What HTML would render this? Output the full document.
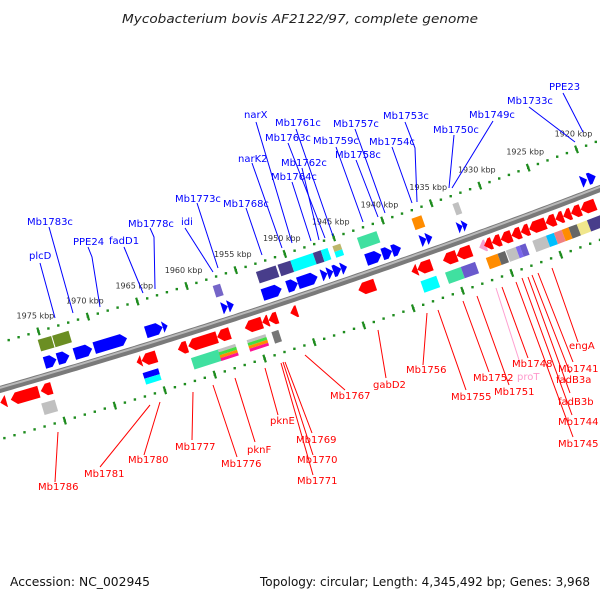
<!DOCTYPE html>
<html><head><meta charset="utf-8"><title>Mycobacterium bovis genome map</title>
<style>
html,body{margin:0;padding:0;background:#fff;}
svg{display:block;font-family:"DejaVu Sans","Liberation Sans",sans-serif;}
.bl{fill:#0000ff;font-size:10px;}
.rl{fill:#ff0000;font-size:10px;}
.bline{stroke:#0000ff;stroke-width:1;fill:none;}
.rline{stroke:#ff0000;stroke-width:1;fill:none;}
</style></head>
<body>
<svg id="map" width="600" height="600" viewBox="0 0 600 600" xmlns="http://www.w3.org/2000/svg">
<rect width="600" height="600" fill="#fff"/>
<text x="300" y="23" text-anchor="middle" font-size="12.5" font-style="italic" fill="#222" textLength="356" lengthAdjust="spacingAndGlyphs">Mycobacterium bovis AF2122/97, complete genome</text>
<g id="features"></g>
<g id="labels-top">
<polyline class="bline" points="256,122 292,243"/><text class="bl" x="244" y="118">narX</text>
<polyline class="bline" points="296,129 333,236"/><text class="bl" x="275" y="126">Mb1761c</text>
<polyline class="bline" points="288,143 325,238"/><text class="bl" x="265" y="141">Mb1763c</text>
<polyline class="bline" points="252,163 282,248"/><text class="bl" x="238" y="162">narK2</text>
<polyline class="bline" points="302,168 319,240"/><text class="bl" x="281" y="166">Mb1762c</text>
<polyline class="bline" points="292,182 311,241"/><text class="bl" x="271" y="180">Mb1764c</text>
<polyline class="bline" points="197,203 218,268"/><text class="bl" x="175" y="202">Mb1773c</text>
<polyline class="bline" points="246,208 262,255"/><text class="bl" x="223" y="207">Mb1768c</text>
<polyline class="bline" points="49,227 73,313"/><text class="bl" x="27" y="225">Mb1783c</text>
<polyline class="bline" points="150,228 154,237 155,289"/><text class="bl" x="128" y="227">Mb1778c</text>
<polyline class="bline" points="185,228 213,272"/><text class="bl" x="181" y="225">idi</text>
<polyline class="bline" points="88,247 92,257 100,307"/><text class="bl" x="73" y="245">PPE24</text>
<polyline class="bline" points="124,247 143,293"/><text class="bl" x="109" y="244">fadD1</text>
<polyline class="bline" points="40,263 55,318"/><text class="bl" x="29" y="259">plcD</text>
<polyline class="bline" points="563,93 583,132"/><text class="bl" x="549" y="90">PPE23</text>
<polyline class="bline" points="529,107 575,142"/><text class="bl" x="507" y="104">Mb1733c</text>
<polyline class="bline" points="493,121 452,188"/><text class="bl" x="469" y="118">Mb1749c</text>
<polyline class="bline" points="454,135 449,188"/><text class="bl" x="433" y="133">Mb1750c</text>
<polyline class="bline" points="405,122 415,148 417,202"/><text class="bl" x="383" y="119">Mb1753c</text>
<polyline class="bline" points="392,147 412,203"/><text class="bl" x="369" y="145">Mb1754c</text>
<polyline class="bline" points="355,129 385,213"/><text class="bl" x="333" y="127">Mb1757c</text>
<polyline class="bline" points="336,147 363,222"/><text class="bl" x="313" y="144">Mb1759c</text>
<polyline class="bline" points="356,160 378,217"/><text class="bl" x="335" y="158">Mb1758c</text>
</g>
<g id="labels-bottom">
<polyline class="rline" points="55,482 58,432"/><text class="rl" x="38" y="490">Mb1786</text>
<polyline class="rline" points="100,467 150,405"/><text class="rl" x="84" y="477">Mb1781</text>
<polyline class="rline" points="144,455 160,402"/><text class="rl" x="128" y="463">Mb1780</text>
<polyline class="rline" points="192,440 193,392"/><text class="rl" x="175" y="450">Mb1777</text>
<polyline class="rline" points="237,457 213,385"/><text class="rl" x="221" y="467">Mb1776</text>
<polyline class="rline" points="255,442 235,378"/><text class="rl" x="247" y="453">pknF</text>
<polyline class="rline" points="278,415 265,368"/><text class="rl" x="270" y="424">pknE</text>
<polyline class="rline" points="312,433 285,362"/><text class="rl" x="296" y="443">Mb1769</text>
<polyline class="rline" points="313,455 283,362"/><text class="rl" x="297" y="463">Mb1770</text>
<polyline class="rline" points="313,475 281,363"/><text class="rl" x="297" y="484">Mb1771</text>
<polyline class="rline" points="345,390 305,355"/><text class="rl" x="330" y="399">Mb1767</text>
<polyline class="rline" points="386,378 378,330"/><text class="rl" x="373" y="388">gabD2</text>
<polyline class="rline" points="423,365 427,313"/><text class="rl" x="406" y="373">Mb1756</text>
<polyline class="rline" points="466,390 438,310"/><text class="rl" x="451" y="400">Mb1755</text>
<polyline class="rline" points="489,372 463,301"/><text class="rl" x="473" y="381">Mb1752</text>
<polyline class="rline" points="509,385 477,296"/><text class="rl" x="494" y="395">Mb1751</text>
<polyline points="520,363 496,288" stroke="#ffa0d0" stroke-width="1" fill="none"/><text x="517" y="380" font-size="10" fill="#ff99cc">proT</text>
<polyline class="rline" points="528,358 502,287"/><text class="rl" x="512" y="367">Mb1748</text>
<polyline class="rline" points="578,342 552,268"/><text class="rl" x="569" y="349">engA</text>
<polyline class="rline" points="573,362 538,273"/><text class="rl" x="558" y="372">Mb1741</text>
<polyline class="rline" points="570,373 532,275"/><text class="rl" x="556" y="383">fadB3a</text>
<polyline class="rline" points="570,393 528,277"/><text class="rl" x="558" y="405">fadB3b</text>
<polyline class="rline" points="572,415 522,278"/><text class="rl" x="558" y="425">Mb1744</text>
<polyline class="rline" points="573,437 516,282"/><text class="rl" x="558" y="447">Mb1745</text>
</g>
<text x="10" y="586" font-size="12" fill="#111" textLength="140" lengthAdjust="spacingAndGlyphs">Accession: NC_002945</text>
<text x="590" y="586" font-size="12" fill="#111" text-anchor="end" textLength="330" lengthAdjust="spacingAndGlyphs">Topology: circular; Length: 4,345,492 bp; Genes: 3,968</text>
</svg>
<script>
// ---- data (positions in kbp) ----
const tickKbp = [1975,1970,1965,1960,1955,1950,1945,1940,1935,1930,1925,1920];
const fwdStart = [1975.3,1974.0,1972.3,1970.3,1965.1,1963.4,1957.4,1956.8,1953.3,1950.8,1949.7,1947.3,1946.7,1946.1,1945.3,1942.75,1941.1,1940.1,1937.2,1936.6,1933.4,1932.9,1920.7,1920.0];
const fwdEnd   = [1974.1,1972.8,1970.5,1967.0,1963.4,1962.9,1956.8,1956.2,1951.35,1949.7,1947.7,1946.7,1946.1,1945.3,1944.7,1941.2,1940.1,1939.2,1936.6,1936.0,1932.9,1932.4,1920.1,1919.2];
const topBoxStart = [1975.3,1973.85,1957.6,1953.2,1951.0,1949.7,1947.4,1946.6,1945.4,1942.9,1937.3,1933.1];
const topBoxEnd   = [1973.95,1972.2,1956.85,1951.2,1949.7,1947.4,1946.6,1945.9,1944.6,1940.9,1936.3,1932.5];
const topBoxColor = ["#6b8e23","#6b8e23","#7565c8","#483d8b","#483d8b","#00ffff","#483d8b","#00ffff","#bdb76b|#00ffff","#40e0a0","#ff8c00","#c0c0c0"];
const revStart = [1980.45,1979.4,1976.4,1966.8,1966.3,1962.65,1961.6,1958.7,1955.9,1954.15,1953.5,1951.3,1944.4,1939.0,1938.4,1935.8,1934.4,1932.1,1931.6,1930.8,1929.9,1928.8,1927.85,1927.0,1925.3,1924.3,1923.5,1922.7,1921.7];
const revEnd   = [1979.85,1976.6,1975.3,1966.3,1964.8,1961.7,1958.7,1957.4,1954.15,1953.5,1952.6,1950.6,1942.7,1938.4,1936.95,1934.4,1932.9,1931.4,1930.8,1929.9,1928.8,1927.85,1927.0,1925.3,1924.3,1923.5,1922.7,1921.7,1920.2];
const revColor = ["#ff0000","#ff0000","#ff0000","#ff0000","#ff0000","#ff0000","#ff0000","#ff0000","#ff0000","#ff0000","#ff0000","#ff0000","#ff0000","#ff0000","#ff0000","#ff0000","#ff0000","#f4a0d0","#ff0000","#ff0000","#ff0000","#ff0000","#ff0000","#ff0000","#ff0000","#ff0000","#ff0000","#ff0000","#ff0000"];
const botBoxStart = [1976.7,1966.55,1961.7,1959.0,1956.1,1953.6,1938.5,1936.0,1934.4,1931.85,1930.65,1929.8,1928.8,1928.4,1927.1,1925.7,1924.9,1924.1,1923.4,1922.55,1921.5];
const botBoxEnd   = [1975.35,1965.0,1958.8,1957.25,1954.2,1952.9,1936.9,1934.4,1932.95,1930.65,1929.9,1928.8,1928.4,1927.8,1925.7,1924.9,1924.1,1923.4,1922.55,1921.5,1920.0];
const botBoxColor = ["#c0c0c0","#0000ff|#00ffff","#40e0a0","#c0c0c0|#44dd44|#ff8c00|#ff1493","#c0c0c0|#44dd44|#ff8c00|#ff1493","#777777","#00ffff","#40e0a0","#6a5acd","#ff8c00","#666666","#c0c0c0","#7b68ee","#6a5acd","#c0c0c0","#00bfff","#f08080","#ff8c00","#666666","#f0e68c","#483d8b"];

// ---- geometry (arc of the circular genome) ----
const NS = 'http://www.w3.org/2000/svg';
const R0 = 7190, CX = -1980.3, CY = -6522.5, PHI0 = 0.3262, DELTA = 0.0014458, KMID = 1947.5;
function pos(k, v) {
  const b = PHI0 + (KMID - k) * DELTA;
  const r = R0 + v;
  return [CX + r * Math.sin(b), CY + r * Math.cos(b)];
}
function pts(list) { return list.map(p => p[0].toFixed(1) + ',' + p[1].toFixed(1)).join(' '); }
const layer = document.getElementById('features');
function el(tag, attrs) {
  const e = document.createElementNS(NS, tag);
  for (const a in attrs) e.setAttribute(a, attrs[a]);
  layer.appendChild(e);
  return e;
}
function arcPath(v, k0, k1) {
  const p = [];
  for (let k = k0; k >= k1; k -= 0.5) p.push(pos(k, v));
  return pts(p);
}
const UP = -45, DOWN = 48;

// backbone
let bb = el('polyline', {points: arcPath(0, 1990, 1912), fill: 'none', stroke: '#7a7a7a', 'stroke-width': 7});


let bbh = el('polyline', {points: arcPath(-1.5, 1990, 1912), fill: 'none', stroke: '#b8b8b8', 'stroke-width': 2});



// dotted scale lines
[UP, DOWN].forEach(function (v) {
  for (let k = 1986; k >= 1914; k--) {
    const p = pos(k, v);
    const d = el('rect', {x: (p[0] - 1.2).toFixed(1), y: (p[1] - 1.2).toFixed(1), width: 2.4, height: 2.4, fill: '#1e8c1e'});
    
    
  }
});
// major ticks + labels
tickKbp.forEach(function (k) {
  [UP, DOWN].forEach(function (v) {
    const a = pos(k, v - 4), b = pos(k, v + 4);
    const t = el('line', {x1: a[0], y1: a[1], x2: b[0], y2: b[1], stroke: '#1e8c1e', 'stroke-width': 2.2});
    
    
  });
  const p = pos(k, UP);
  const lab = el('text', {x: (p[0] - 3).toFixed(1), y: (p[1] - 13).toFixed(1), 'text-anchor': 'middle', 'font-size': 8, fill: '#333'});
  lab.textContent = k + ' kbp';
  
  
});

// boxes
function drawBox(s, e, vc, colors, nm) {
  const parts = colors.split('|');
  const h = 12, top = vc - h / 2, step = h / parts.length;
  parts.forEach(function (c, i) {
    const v1 = top + i * step, v2 = v1 + step;
    const poly = el('polygon', {points: pts([pos(s, v1), pos(e, v1), pos(e, v2), pos(s, v2)]), fill: c});
    
    
  });
}
for (let i = 0; i < topBoxStart.length; i++) drawBox(topBoxStart[i], topBoxEnd[i], -31, topBoxColor[i], 'forward-feature-box');
for (let i = 0; i < botBoxStart.length; i++) drawBox(botBoxStart[i], botBoxEnd[i], 31, botBoxColor[i], 'reverse-feature-box');

// arrows
const HEAD = 0.55;
for (let i = 0; i < fwdStart.length; i++) {
  const s = fwdStart[i], e = fwdEnd[i], v1 = -19, v2 = -7, vm = -13;
  const h = Math.min(HEAD, s - e);
  const g = el('polygon', {points: pts([pos(s, v1), pos(e + h, v1), pos(e, vm), pos(e + h, v2), pos(s, v2)]), fill: '#0000ff'});
  
  
}
for (let i = 0; i < revStart.length; i++) {
  const s = revStart[i], e = revEnd[i], v1 = 7, v2 = 19, vm = 13;
  const h = Math.min(HEAD, s - e);
  const g = el('polygon', {points: pts([pos(e, v1), pos(s - h, v1), pos(s, vm), pos(s - h, v2), pos(e, v2)]), fill: revColor[i]});
  
  
}
</script>
</body></html>
